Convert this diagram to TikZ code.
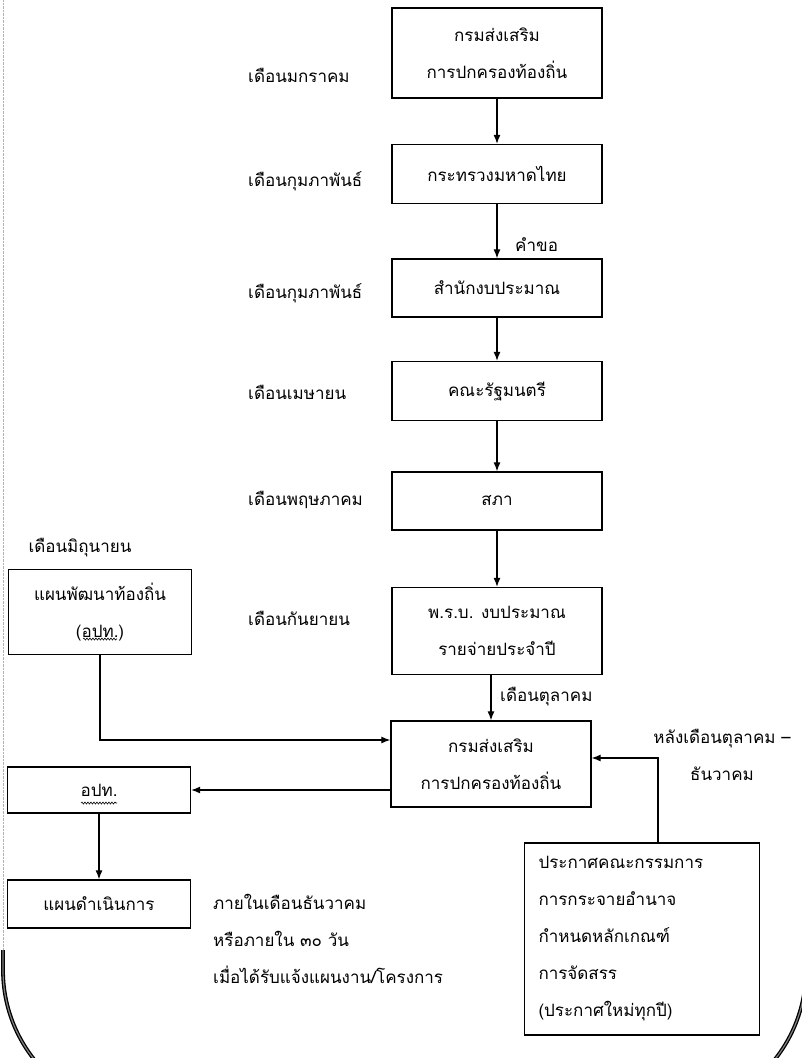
\documentclass[tikz,border=0pt]{standalone}
\usepackage{fontspec}
\newfontfamily\thaifont[Script=Thai]{Loma}
\usetikzlibrary{positioning, arrows.meta, decorations.pathmorphing}

\begin{document}
\begin{tikzpicture}[
    % GLOBAL CFG
    x=1pt, y=-1pt,
    font=\thaifont\fontsize{17pt}{37pt}\selectfont,
    >={Latex[length=9pt,width=7pt]},
    % Styles
    stage/.style={% For the main column of boxes
        rectangle,
        draw,
        line width=1.3pt,
        minimum width=210pt,
        align=center,
        inner sep=2pt,
        },
    sidebox/.style={% For the boxes on the left
        rectangle,
        draw,
        line width=1.3pt,
        minimum width=183pt,
        align=center,
        inner sep=2pt,
        },
    month/.style={% For the month labels
        anchor=west,
        inner sep=0pt,
        },
    ArrowC1/.style={% Straight arrows
        ->,
        line width=1.2pt,
        },
    squiggle/.style={% wavy underline
        decorate,
        decoration={snake, amplitude=1pt, segment length=3pt},
        line width=0.6pt,
        },
    frame/.style={% scanned page border
        draw=black,
        double=black!50,
        line width=1.3pt,
        double distance=1.2pt,
        rounded corners=144pt,
        },
    ]

\useasboundingbox (0,0) rectangle (802,1058);

% Page border
\draw[gray!60, densely dotted] (3,0) -- (3,950);
\draw[frame] (3,950) -- (3,1114) -- (806,1114) -- (806,950);

% Draw the main column named box#
\node[stage, minimum height=90pt] (box1) at (497,53) {กรมส่งเสริม\\การปกครองท้องถิ่น};
\node[stage, minimum height=59pt] (box2) at (497,174) {กระทรวงมหาดไทย};
\node[stage, minimum height=58pt] (box3) at (497,288) {สำนักงบประมาณ};
\node[stage, minimum height=59pt] (box4) at (497,391) {คณะรัฐมนตรี};
\node[stage, minimum height=58pt] (box5) at (497,501) {สภา};
\node[stage, minimum height=87pt] (box6) at (497,631) {พ.ร.บ. งบประมาณ\\รายจ่ายประจำปี};
\node[stage, minimum width=200pt, minimum height=86pt] (box7) at (491,764) {กรมส่งเสริม\\การปกครองท้องถิ่น};

% Month labels named m#
\node[month] (m1) at (248,75) {เดือนมกราคม};
\node[month] (m2) at (248,181) {เดือนกุมภาพันธ์};
\node[month] (m3) at (248,293) {เดือนกุมภาพันธ์};
\node[month] (m4) at (248,392) {เดือนเมษายน};
\node[month] (m5) at (248,500) {เดือนพฤษภาคม};
\node[month] (m6) at (248,618) {เดือนกันยายน};
\node (m0) at (80,548) {เดือนมิถุนายน};
\node[month] (req) at (515,245) {คำขอ};
\node[month] (oct) at (500,697) {เดือนตุลาคม};
\node[align=center] (late) at (722,755) {หลังเดือนตุลาคม –\\ธันวาคม};

% Left side boxes
\node[sidebox, minimum height=85pt] (lb) at (100,612) {แผนพัฒนาท้องถิ่น\\(อปท.)};
\node[sidebox, minimum height=46pt] (apt) at (99,790) {อปท.};
\node[sidebox, minimum height=48pt] (plan) at (99,904) {แผนดำเนินการ};
\node[month, align=left] (due) at (213,939) {ภายในเดือนธันวาคม\\หรือภายใน ๓๐ วัน\\เมื่อได้รับแจ้งแผนงาน/โครงการ};

% Right box
\node[rectangle, draw, line width=1.3pt, minimum height=192pt, text width=207pt,
    inner xsep=14pt, align=left] (rb) at (642,939)
    {ประกาศคณะกรรมการ\\การกระจายอำนาจ\\กำหนดหลักเกณฑ์\\การจัดสรร\\(ประกาศใหม่ทุกปี)};
\coordinate (rbtop) at ([xshift=16pt]rb.north);

% wavy underlines
\draw[squiggle] ([shift={(-17,27)}]lb.center) -- ++(34,0);
\draw[squiggle] ([shift={(-18,13)}]apt.center) -- ++(36,0);

% Connectors
\draw[ArrowC1] (box1) -- (box2);
\draw[ArrowC1] (box2) -- (box3);
\draw[ArrowC1] (box3) -- (box4);
\draw[ArrowC1] (box4) -- (box5);
\draw[ArrowC1] (box5) -- (box6);
\draw[ArrowC1] (box7.north |- box6.south) -- (box7.north);
\draw[ArrowC1] (lb.south) |- ([yshift=24pt]box7.west);
\draw[ArrowC1] (apt -| box7.west) -- (apt.east);
\draw[ArrowC1] (apt) -- (plan);
\draw[ArrowC1] (rbtop) |- ([yshift=6pt]box7.east);

\end{tikzpicture}
\end{document}
